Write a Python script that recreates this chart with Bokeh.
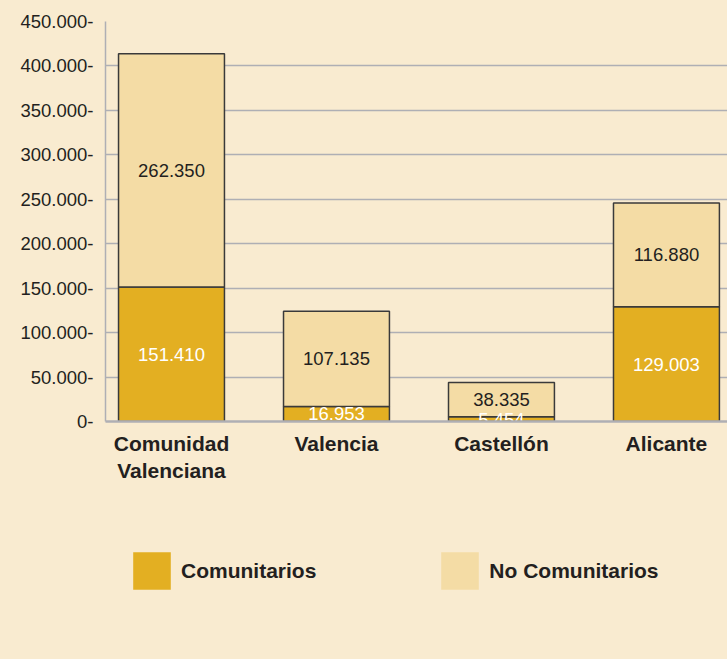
from bokeh.plotting import figure
from bokeh.layouts import column
from bokeh.models import ColumnDataSource, Range1d, FixedTicker, Legend, LegendItem
from bokeh.embed import file_html
from bokeh.resources import INLINE
from bokeh.core.properties import value

# ---- data ----
categories = ["Comunidad\nValenciana", "Valencia", "Castellón", "Alicante"]
comunitarios = [151410, 16953, 5454, 129003]
no_comunitarios = [262350, 107135, 38335, 116880]
comunitarios_labels = ["151.410", "16.953", "5.454", "129.003"]
no_comunitarios_labels = ["262.350", "107.135", "38.335", "116.880"]
series_names = ["Comunitarios", "No Comunitarios"]
y_ticks = [0, 50000, 100000, 150000, 200000, 250000, 300000, 350000, 400000, 450000]
y_tick_labels = ["0-", "50.000-", "100.000-", "150.000-", "200.000-", "250.000-",
                 "300.000-", "350.000-", "400.000-", "450.000-"]

# ---- styles ----
BG = "#F9EBD0"
DARK = "#E3AF22"
LIGHT = "#F4DCA5"
GRID = "#AFAFB4"
TXT = "#231F20"
FONT = "Liberation Sans"

xs = list(range(len(categories)))
src = ColumnDataSource(dict(
    x=xs,
    com=comunitarios,
    nocom=no_comunitarios,
    com_mid=[c / 2 for c in comunitarios],
    nocom_mid=[c + n / 2 for c, n in zip(comunitarios, no_comunitarios)],
    com_lbl=comunitarios_labels,
    nocom_lbl=no_comunitarios_labels,
))

p = figure(width=727, height=500, output_backend="svg", toolbar_location=None,
           x_range=Range1d(-0.40, 3.37), y_range=Range1d(0, 450000),
           min_border_left=105, min_border_right=0, min_border_top=21, min_border_bottom=79,
           background_fill_color=BG, border_fill_color=BG, outline_line_color=None)

p.vbar_stack(["com", "nocom"], x="x", width=0.642, color=[DARK, LIGHT],
             line_color="#3a3a3a", line_width=1.5, source=src)

p.text(x="x", y="com_mid", text="com_lbl", source=src, text_color="white",
       text_font=value(FONT), text_font_size="18.5px", text_align="center", text_baseline="middle")
p.text(x="x", y="nocom_mid", text="nocom_lbl", source=src, text_color=TXT,
       text_font=value(FONT), text_font_size="18.5px", text_align="center", text_baseline="middle")

# axes
p.xgrid.grid_line_color = None
p.ygrid.grid_line_color = GRID
p.ygrid.grid_line_width = 1.5
p.ygrid.ticker = FixedTicker(ticks=y_ticks)

p.yaxis.ticker = FixedTicker(ticks=y_ticks)
p.yaxis.major_label_overrides = {t: l for t, l in zip(y_ticks, y_tick_labels)}
p.yaxis.axis_line_color = GRID
p.yaxis.axis_line_width = 1.5
p.yaxis.major_tick_line_color = None
p.yaxis.minor_tick_line_color = None
p.yaxis.major_label_standoff = 6
p.yaxis.major_label_text_font = FONT
p.yaxis.major_label_text_font_size = "18.5px"
p.yaxis.major_label_text_color = TXT

p.xaxis.ticker = FixedTicker(ticks=xs)
p.xaxis.major_label_overrides = {x: c for x, c in zip(xs, categories)}
p.xaxis.axis_line_color = GRID
p.xaxis.axis_line_width = 2.5
p.xaxis.major_tick_line_color = None
p.xaxis.minor_tick_line_color = None
p.xaxis.major_label_standoff = 4
p.xaxis.major_label_text_font = FONT
p.xaxis.major_label_text_font_size = "21px"
p.xaxis.major_label_text_font_style = "bold"
p.xaxis.major_label_text_color = TXT

# legend in a separate strip below the chart (swatches come from zero-height bars)
p2 = figure(width=727, height=159, output_backend="svg", toolbar_location=None,
            x_range=Range1d(0, 1), y_range=Range1d(0, 1),
            min_border_left=0, min_border_right=0, min_border_top=0, min_border_bottom=0,
            background_fill_color=BG, border_fill_color=BG, outline_line_color=None)
p2.axis.visible = False
p2.grid.grid_line_color = None
swatch = ColumnDataSource(dict(x=[0.5], top=[0]))
r1 = p2.vbar(x="x", top="top", width=0.1, source=swatch, fill_color=DARK, line_color=None)
r2 = p2.vbar(x="x", top="top", width=0.1, source=swatch, fill_color=LIGHT, line_color=None)
legend = Legend(items=[LegendItem(label=series_names[0], renderers=[r1]),
                       LegendItem(label=series_names[1], renderers=[r2])],
                orientation="horizontal", location=(23, 65),
                glyph_width=47, glyph_height=47, label_standoff=6, spacing=120,
                padding=0, margin=0, border_line_color=None, background_fill_alpha=0,
                label_text_font=FONT, label_text_font_size="21px",
                label_text_font_style="bold", label_text_color=TXT,
                label_text_baseline="middle")
p2.add_layout(legend, "center")

layout = column(p, p2, spacing=0)
html = file_html(layout, INLINE, title="Comunitarios")
html = html.replace("</head>", "<style>body{background-color:%s;}</style></head>" % BG, 1)
open("out.html", "w").write(html)
